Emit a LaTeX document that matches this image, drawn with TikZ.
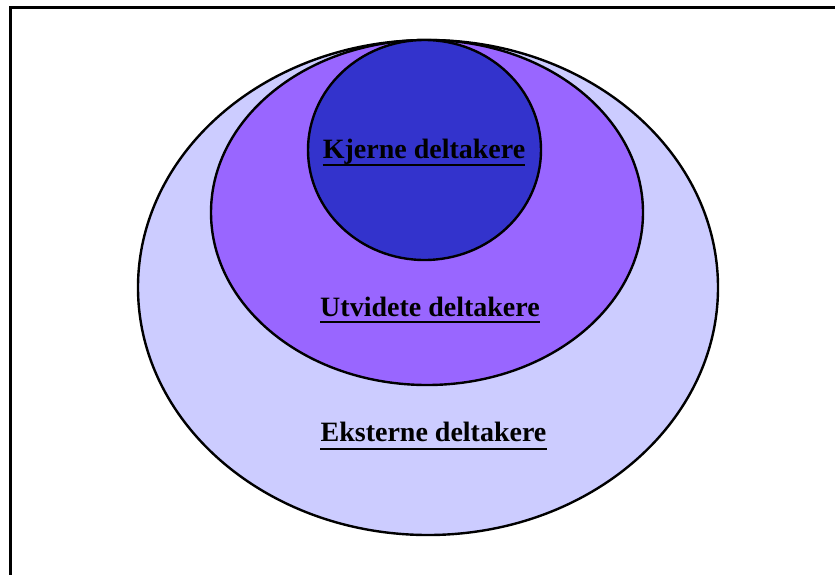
\documentclass[tikz,border=0pt]{standalone}
\usepackage{fontspec}
\setmainfont{Liberation Serif}
\definecolor{outerc}{HTML}{CCCCFF}
\definecolor{midc}{HTML}{9966FF}
\definecolor{innerc}{HTML}{3333CC}
\begin{document}
\begin{tikzpicture}[x=1pt,y=-1pt,
  ring/.style={draw=black,line width=2.4pt},
  lbl/.style={font=\fontsize{28}{30}\selectfont\bfseries,inner sep=0pt,anchor=base},
  uline/.style={line width=2pt}]
\useasboundingbox (0,0) rectangle (835,574);
\begin{scope}
\clip (0,0) rectangle (835,574);
\draw[line width=3pt] (10.5,590) -- (10.5,7.5) -- (850,7.5);
\end{scope}
\path[ring,fill=outerc] (428,287.5) ellipse [x radius=290,y radius=247.5];
\path[ring,fill=midc] (427,212.5) ellipse [x radius=216,y radius=172.5];
\path[ring,fill=innerc] (424.5,150) ellipse [x radius=116.5,y radius=110];
\node[lbl] (k) at (424,158) {Kjerne deltakere};
\node[lbl] (u) at (430,316) {Utvidete deltakere};
\node[lbl] (e) at (433.5,441) {Eksterne deltakere};
\draw[uline] ([yshift=-7pt]k.base west) -- ([yshift=-7pt]k.base east);
\draw[uline] ([yshift=-6pt]u.base west) -- ([yshift=-6pt]u.base east);
\draw[uline] ([yshift=-8pt]e.base west) -- ([yshift=-8pt]e.base east);
\end{tikzpicture}
\end{document}
